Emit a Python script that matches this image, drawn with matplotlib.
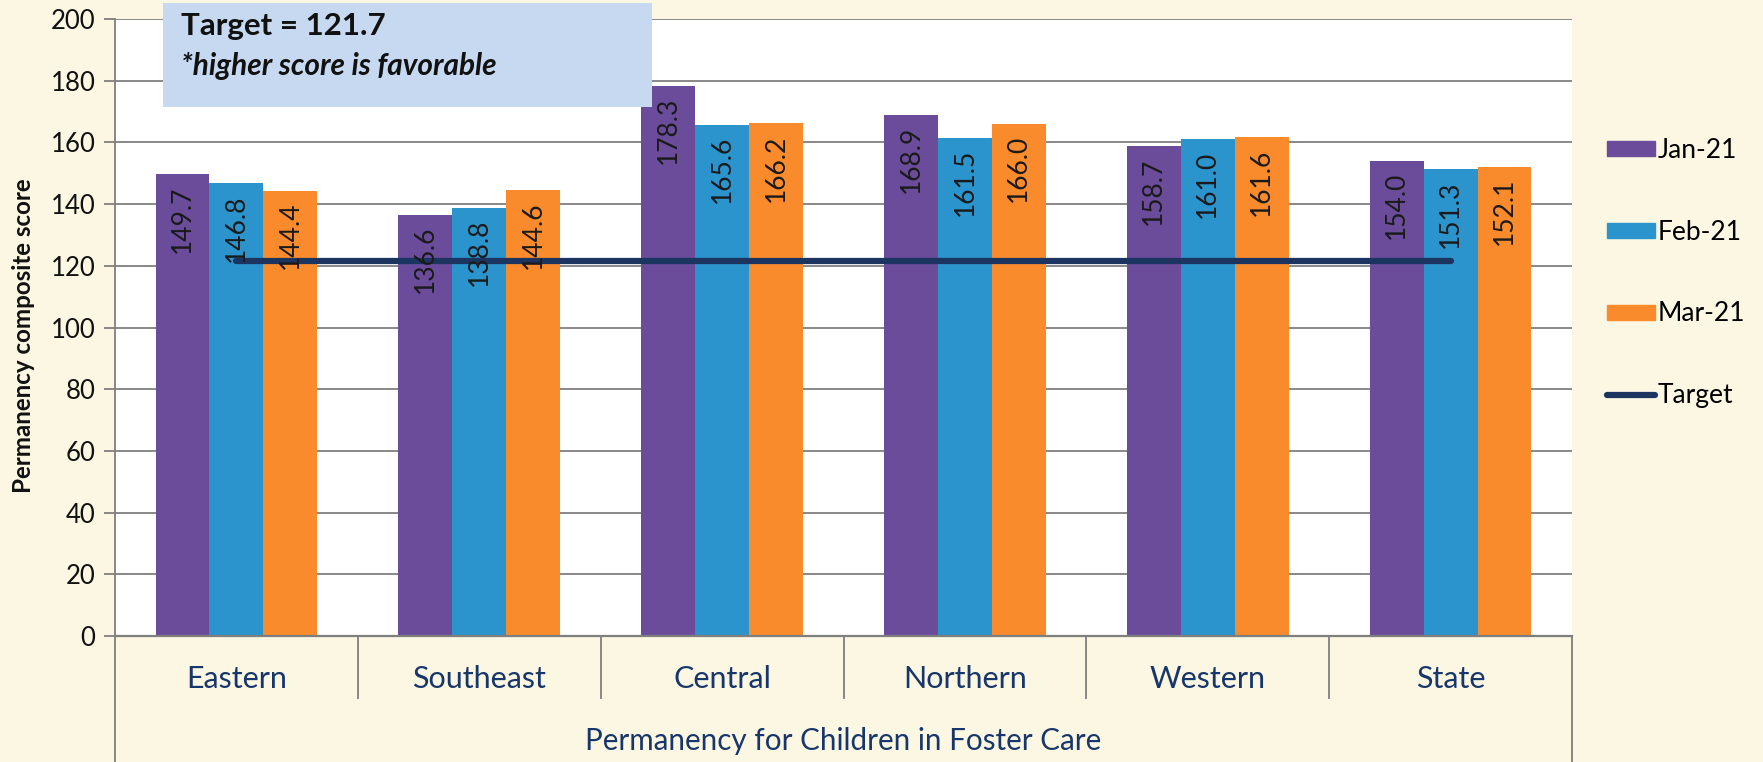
import matplotlib
matplotlib.use("Agg")
import matplotlib.pyplot as plt
from matplotlib.patches import Rectangle, Patch
from matplotlib.lines import Line2D
import numpy as np

plt.rcParams['font.family'] = ['Lato', 'DejaVu Sans']

categories = ["Eastern", "Southeast", "Central", "Northern", "Western", "State"]
series_names = ["Jan-21", "Feb-21", "Mar-21"]
jan21 = [149.7, 136.6, 178.3, 168.9, 158.7, 154.0]
feb21 = [146.8, 138.8, 165.6, 161.5, 161.0, 151.3]
mar21 = [144.4, 144.6, 166.2, 166.0, 161.6, 152.1]
target_value = 121.7
yticks = [0, 20, 40, 60, 80, 100, 120, 140, 160, 180, 200]

colors = ["#6B4C9A", "#2B94CC", "#F98B2C"]
navy = "#1B3560"
label_navy = "#17366B"
bg = "#FCF7E2"
grid_c = "#7F7F7F"

W, H = 1763, 762
fig = plt.figure(figsize=(W / 100, H / 100), dpi=100, facecolor=bg)
ax_l, ax_r, ax_t, ax_b = 115, 1572, 19, 636
ax = fig.add_axes([ax_l / W, (H - ax_b) / H, (ax_r - ax_l) / W, (ax_b - ax_t) / H])
ax.set_facecolor("white")

x = np.arange(len(categories))
bw = 0.222
series = [jan21, feb21, mar21]
for i, (vals, name, c) in enumerate(zip(series, series_names, colors)):
    xs = x + (i - 1) * bw
    ax.bar(xs, vals, width=bw, color=c, label=name, zorder=2)
    for xi, v in zip(xs, vals):
        ax.annotate(f"{v:.1f}", (xi, v), xytext=(0, -8), textcoords="offset points",
                    rotation=90, ha="center", va="top", fontsize=19, color="#1A1A1A", zorder=5)

ax.plot(x, [target_value] * len(x), color=navy, lw=4.5, solid_capstyle="round", zorder=4, label="Target")

ax.set_xlim(-0.5, len(categories) - 0.5)
ax.set_ylim(0, 200)
ax.set_yticks(yticks)
ax.set_yticklabels([str(t) for t in yticks], fontsize=18.5, color="#111111")
ax.yaxis.grid(True, color=grid_c, lw=1.3, zorder=0)
ax.set_axisbelow(True)
ax.tick_params(axis="y", length=8, width=1.3, color=grid_c, pad=6)

ax.set_xticks(x)
ax.set_xticklabels(categories, fontsize=22, color=label_navy)
ax.tick_params(axis="x", length=0, pad=21)

for s in ["top", "right"]:
    ax.spines[s].set_visible(False)
ax.spines["left"].set_color(grid_c)
ax.spines["left"].set_linewidth(1.3)
ax.spines["bottom"].set_color(grid_c)
ax.spines["bottom"].set_linewidth(1.6)

ah = ax_b - ax_t
bottom_ext = -(H - ax_b) / ah
sep_ext = -(698 - ax_b) / ah
ax.add_line(Line2D([0, 0], [0, bottom_ext], transform=ax.transAxes, color=grid_c, lw=1.3, clip_on=False))
ax.add_line(Line2D([1, 1], [0, bottom_ext], transform=ax.transAxes, color=grid_c, lw=1.3, clip_on=False))
for k in range(1, len(categories)):
    ax.add_line(Line2D([k / len(categories)] * 2, [0, sep_ext], transform=ax.transAxes,
                       color=grid_c, lw=1.3, clip_on=False))

ax.set_xlabel("Permanency for Children in Foster Care", fontsize=21.3, color=label_navy, va="center")
ax.xaxis.set_label_coords(0.5, -(741 - ax_b) / ah)
ax.set_ylabel("Permanency composite score", fontsize=17.4, fontweight="bold", color="#111111", va="center")
ax.yaxis.set_label_coords(-(ax_l - 24) / (ax_r - ax_l), 0.486)

handles = [Patch(color=c) for c in colors] + [Line2D([], [], color=navy, lw=4.5, solid_capstyle="round")]
leg = ax.legend(handles, series_names + ["Target"], loc="upper left",
                bbox_to_anchor=(1607 / W, (H - 138) / H), bbox_transform=fig.transFigure,
                frameon=False, fontsize=19, handlelength=1.8, handleheight=0.5,
                handletextpad=0.12, labelspacing=2.15, borderpad=0, borderaxespad=0)

fig.patches.append(Rectangle((163 / W, (H - 107) / H), 489 / W, 104 / H, transform=fig.transFigure,
                             facecolor="#C6D9F1", edgecolor="none", zorder=1))
fig.text(181 / W, (H - 26) / H, "Target = 121.7", fontsize=22.5, fontweight="bold", va="center",
         color="#111111", zorder=3)
fig.text(181 / W, (H - 66) / H, "*higher score is favorable", fontsize=21.4, fontweight="bold",
         style="italic", va="center", color="#111111", zorder=3)

fig.savefig("out.png", dpi=100, facecolor=bg)
